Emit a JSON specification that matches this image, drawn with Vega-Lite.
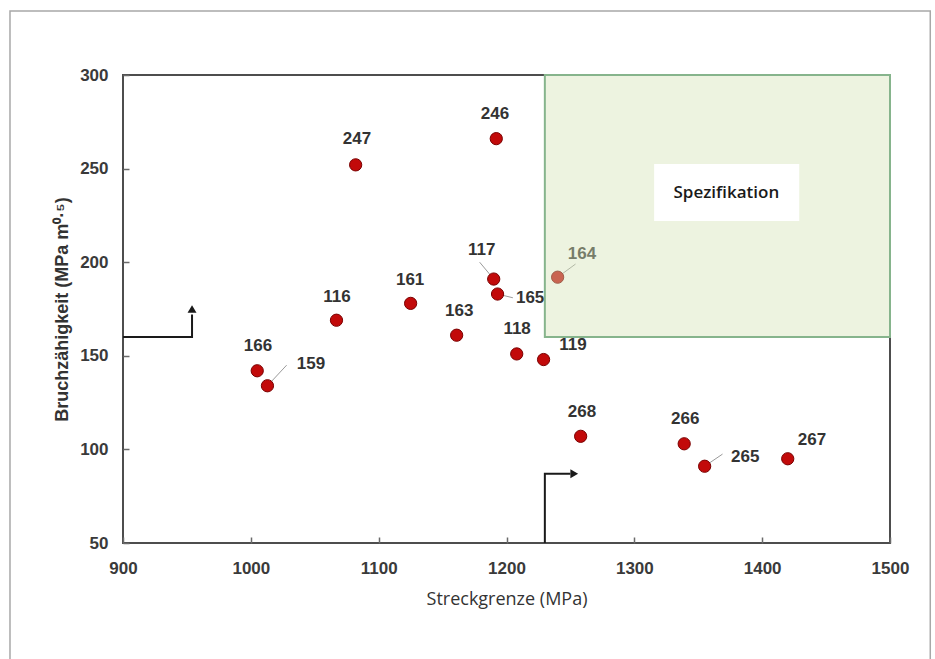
{
  "$schema": "https://vega.github.io/schema/vega-lite/v6.json",
  "width": 767,
  "height": 468,
  "autosize": {"type": "none"},
  "padding": {"left": 123, "top": 75, "right": 45, "bottom": 116},
  "background": "white",
  "config": {
    "view": {"stroke": "#4d4d4d", "strokeWidth": 2},
    "axis": {
      "grid": false,
      "domain": false,
      "offset": -6,
      "tickColor": "#6a6a6a",
      "tickWidth": 1.5,
      "tickSize": 6,
      "labelFlush": false,
      "labelFont": "Liberation Sans",
      "labelFontSize": 17,
      "labelFontWeight": "bold",
      "labelColor": "#3a3a3a",
      "titleColor": "#333333"
    }
  },
  "datasets": {
    "samples": [
      {"id": "166", "ys": 1005, "kic": 142, "lx": 1005.6, "ly": 155.2},
      {"id": "159", "ys": 1013, "kic": 134, "lx": 1047, "ly": 145.6},
      {"id": "116", "ys": 1067, "kic": 169, "lx": 1067.4, "ly": 181.4},
      {"id": "247", "ys": 1082, "kic": 252, "lx": 1083, "ly": 265.8},
      {"id": "161", "ys": 1125, "kic": 178, "lx": 1124.6, "ly": 190.5},
      {"id": "163", "ys": 1161, "kic": 161, "lx": 1163, "ly": 174},
      {"id": "246", "ys": 1192, "kic": 266, "lx": 1191, "ly": 279.2},
      {"id": "117", "ys": 1190, "kic": 191, "lx": 1180.6, "ly": 206.5},
      {"id": "165", "ys": 1193, "kic": 183, "lx": 1218.5, "ly": 180.9},
      {"id": "118", "ys": 1208, "kic": 151, "lx": 1208.3, "ly": 164.3},
      {"id": "119", "ys": 1229, "kic": 148, "lx": 1252, "ly": 155.8},
      {"id": "164", "ys": 1240, "kic": 192, "lx": 1259, "ly": 204.4},
      {"id": "268", "ys": 1258, "kic": 107, "lx": 1259, "ly": 120},
      {"id": "266", "ys": 1339, "kic": 103, "lx": 1339.8, "ly": 116.2},
      {"id": "265", "ys": 1355, "kic": 91, "lx": 1386.7, "ly": 96},
      {"id": "267", "ys": 1420, "kic": 95, "lx": 1439, "ly": 105}
    ],
    "leaders": [
      {"id": "159", "x1": 1013, "y1": 134, "x2": 1028, "y2": 145},
      {"id": "117", "x1": 1190, "y1": 191, "x2": 1179, "y2": 200},
      {"id": "165", "x1": 1193, "y1": 183, "x2": 1205, "y2": 181},
      {"id": "164", "x1": 1240, "y1": 192, "x2": 1254, "y2": 199},
      {"id": "265", "x1": 1355, "y1": 91, "x2": 1369, "y2": 97.5}
    ],
    "arrows": [
      {"arrow": "kic", "step": 1, "x": 900, "y": 160},
      {"arrow": "kic", "step": 2, "x": 954, "y": 160},
      {"arrow": "kic", "step": 3, "x": 954, "y": 172},
      {"arrow": "ys", "step": 1, "x": 1230, "y": 50},
      {"arrow": "ys", "step": 2, "x": 1230, "y": 87},
      {"arrow": "ys", "step": 3, "x": 1250, "y": 87}
    ],
    "heads": [
      {"arrow": "kic", "x": 954, "y": 175, "dir": "triangle-up"},
      {"arrow": "ys", "x": 1253, "y": 87, "dir": "triangle-right"}
    ]
  },
  "layer": [
    {
      "data": {"values": [{"x1": 811.6, "x2": 1531.5, "y1": -15, "y2": 334.2}]},
      "mark": {"type": "rect", "fill": null, "fillOpacity": 0, "stroke": "#a8a8a8", "strokeWidth": 1.5, "clip": false},
      "encoding": {
        "x": {"field": "x1", "type": "quantitative", "scale": {"domain": [900, 1500], "nice": false, "zero": false},
              "axis": {"values": [900, 1000, 1100, 1200, 1300, 1400, 1500], "format": "d", "labelPadding": 17, "title": "Streckgrenze (MPa)",
                       "titleFont": "Open Sans", "titleFontSize": 18, "titleFontWeight": "normal", "titlePadding": 14}},
        "x2": {"field": "x2"},
        "y": {"field": "y1", "type": "quantitative", "scale": {"domain": [50, 300], "nice": false, "zero": false},
              "axis": {"values": [50, 100, 150, 200, 250, 300], "format": "d", "labelPadding": 15, "title": "Bruchzähigkeit (MPa m⁰·⁵)",
                       "titleFont": "Liberation Sans", "titleFontSize": 18, "titleFontWeight": "bold", "titlePadding": 8}},
        "y2": {"field": "y2"}
      }
    },
    {
      "data": {"name": "arrows"},
      "mark": {"type": "line", "color": "#1a1a1a", "strokeWidth": 2, "interpolate": "linear"},
      "encoding": {
        "x": {"field": "x", "type": "quantitative"},
        "y": {"field": "y", "type": "quantitative"},
        "detail": {"field": "arrow"},
        "order": {"field": "step"}
      }
    },
    {
      "data": {"name": "heads"},
      "mark": {"type": "point", "filled": true, "color": "#1a1a1a", "size": 80, "opacity": 1},
      "encoding": {
        "x": {"field": "x", "type": "quantitative"},
        "y": {"field": "y", "type": "quantitative"},
        "shape": {"field": "dir", "type": "nominal", "scale": null}
      }
    },
    {
      "data": {"name": "leaders"},
      "mark": {"type": "rule", "color": "#9a9a9a", "strokeWidth": 1},
      "encoding": {
        "x": {"field": "x1", "type": "quantitative"},
        "y": {"field": "y1", "type": "quantitative"},
        "x2": {"field": "x2"},
        "y2": {"field": "y2"}
      }
    },
    {
      "data": {"name": "samples"},
      "mark": {"type": "point", "filled": true, "shape": "circle", "size": 150, "fill": "#c20a0a", "stroke": "#7a0000", "strokeWidth": 1, "opacity": 1},
      "encoding": {
        "x": {"field": "ys", "type": "quantitative"},
        "y": {"field": "kic", "type": "quantitative"}
      }
    },
    {
      "data": {"name": "samples"},
      "mark": {"type": "text", "font": "Liberation Sans", "fontSize": 17, "fontWeight": "bold", "color": "#333333"},
      "encoding": {
        "x": {"field": "lx", "type": "quantitative"},
        "y": {"field": "ly", "type": "quantitative"},
        "text": {"field": "id"}
      }
    },
    {
      "data": {"values": [{"x1": 1230, "x2": 1500, "y1": 160, "y2": 300}]},
      "mark": {"type": "rect", "fill": "#d4e3b6", "fillOpacity": 0.42, "stroke": "#86b48c", "strokeWidth": 2, "strokeOpacity": 1},
      "encoding": {
        "x": {"field": "x1", "type": "quantitative"},
        "x2": {"field": "x2"},
        "y": {"field": "y1", "type": "quantitative"},
        "y2": {"field": "y2"}
      }
    },
    {
      "data": {"values": [{"x1": 1315.5, "x2": 1429, "y1": 222, "y2": 252.5}]},
      "mark": {"type": "rect", "fill": "white", "stroke": null},
      "encoding": {
        "x": {"field": "x1", "type": "quantitative"},
        "x2": {"field": "x2"},
        "y": {"field": "y1", "type": "quantitative"},
        "y2": {"field": "y2"}
      }
    },
    {
      "data": {"values": [{"x": 1372, "y": 237, "label": "Spezifikation"}]},
      "mark": {"type": "text", "font": "Open Sans", "fontSize": 17, "fontWeight": 600, "color": "#1a1a1a"},
      "encoding": {
        "x": {"field": "x", "type": "quantitative"},
        "y": {"field": "y", "type": "quantitative"},
        "text": {"field": "label"}
      }
    }
  ]
}
